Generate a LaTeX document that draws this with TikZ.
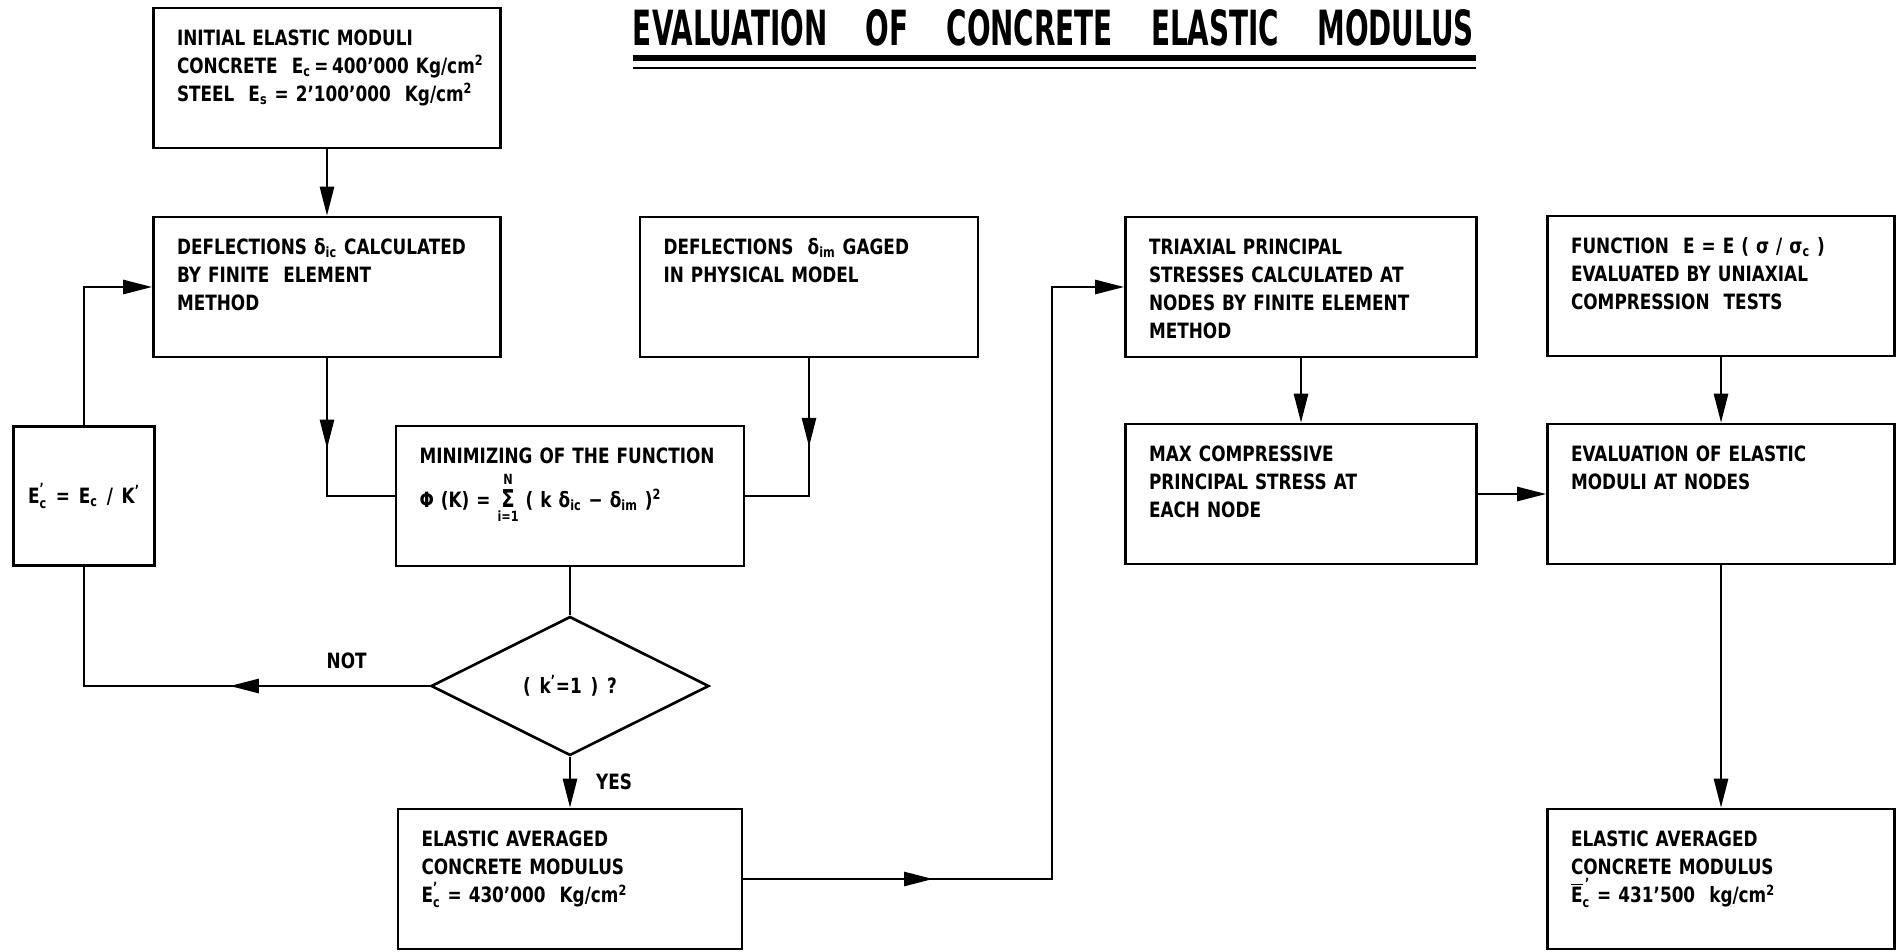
\documentclass[tikz,border=0pt]{standalone}
\usepackage{amsmath}
\usepackage{fontspec}
\usepackage{graphicx}
\setmainfont[FakeStretch=0.8,WordSpace=1.5]{DejaVu Sans}
\usetikzlibrary{arrows.meta,shapes.geometric,decorations.markings}

\begin{document}
\begin{tikzpicture}[every node/.style={font=\bfseries\fontsize{12}{16}\selectfont},
	>={Triangle[length=0.58cm,width=0.28cm]},
	flow/.style={line width=1.5pt},
	midarrow/.style={postaction={decorate},decoration={markings,mark=at position #1 with {\arrow{>}}}},
	blockbox/.style={draw, line width=1.5pt, align=left, text width=6cm, inner xsep=0.47cm, inner ysep=0.44cm, text height=8.75pt, text depth=1.611cm},
	smallbox/.style={draw, line width=1.5pt, minimum width=2.82cm, minimum height=2.78cm, inner sep=0pt},
	decision/.style={draw, diamond, line width=1.5pt, minimum width=5.56cm, minimum height=2.78cm, inner sep=0pt}]
	\useasboundingbox (0,0) rectangle (37.94,-19.02);
	% title
	\node[inner sep=0pt] (title) at (21.07,-0.56) {\resizebox{16.82cm}{0.72cm}{EVALUATION\hspace{1.1em}OF\hspace{1.1em}CONCRETE\hspace{1.1em}ELASTIC\hspace{1.1em}MODULUS}};
	\draw[line width=0.12cm] ([yshift=-0.22cm]title.south west) -- ([yshift=-0.22cm,xshift=0.04cm]title.south east);
	\draw[line width=0.04cm] ([yshift=-0.42cm]title.south west) -- ([yshift=-0.42cm,xshift=0.04cm]title.south east);
	% left column
	\node[blockbox] (init) at (6.54,-1.56) {INITIAL ELASTIC MODULI\\
		\mbox{CONCRETE\ \ E\textsubscript{c}\,=\,400'000 Kg/cm\textsuperscript{2}}\\
		\mbox{STEEL\ \ E\textsubscript{s} = 2'100'000\ \ Kg/cm\textsuperscript{2}}};
	\node[blockbox] (deflc) at (6.54,-5.74) {\mbox{DEFLECTIONS δ\textsubscript{ic} CALCULATED}\\ BY FINITE\ \ ELEMENT\\ METHOD};
	\node[blockbox, text width=5.82cm] (deflm) at (16.18,-5.74) {DEFLECTIONS\ \ δ\textsubscript{im} GAGED\\ IN PHYSICAL MODEL};
	\node[blockbox, text width=6.02cm] (mini) at (11.4,-9.92) {MINIMIZING OF THE FUNCTION\\[4pt]
		Φ (K) = $\mathop{\text{\fontsize{14}{14}\selectfont Σ}}\limits_{\text{i=1}}^{\text{N}}$ ( k δ\textsubscript{ic} − δ\textsubscript{im} )\textsuperscript{2}};
	\node[smallbox] (ecp) at (1.68,-9.92) {$\text{E}_{\text{c}}^{\text{'}}$ = E\textsubscript{c} / K\textsuperscript{'}};
	\node[decision] (dec) at (11.4,-13.72) {( k\textsuperscript{'}=1 ) ?};
	\node[blockbox, text width=5.94cm] (elast) at (11.4,-17.58) {ELASTIC AVERAGED\\ CONCRETE MODULUS\\
		$\text{E}_{\text{c}}^{\text{'}}$ = 430'000\ \ Kg/cm\textsuperscript{2}};
	% right part
	\node[blockbox, text width=6.08cm] (triax) at (26.02,-5.74) {TRIAXIAL PRINCIPAL\\ STRESSES CALCULATED AT\\ NODES BY FINITE ELEMENT\\ METHOD};
	\node[blockbox] (func) at (34.42,-5.72) {FUNCTION\ \ E = E ( σ / σ\textsubscript{c} )\\ EVALUATED BY UNIAXIAL\\ COMPRESSION\ \ TESTS};
	\node[blockbox, text width=6.08cm] (maxc) at (26.02,-9.88) {MAX COMPRESSIVE\\ PRINCIPAL STRESS AT\\ EACH NODE};
	\node[blockbox] (evalm) at (34.42,-9.88) {EVALUATION OF ELASTIC\\ MODULI AT NODES};
	\node[blockbox] (final) at (34.42,-17.58) {ELASTIC AVERAGED\\ CONCRETE MODULUS\\
		$\overline{\text{E}}_{\text{c}}^{\,\text{'}}$ = 431'500\ \ kg/cm\textsuperscript{2}};
	\coordinate (bend) at (21.04,-17.58);
	% connectors
	\draw[flow,->] (init) -- (deflc);
	\draw[flow,midarrow=0.44] (deflc.south) |- (mini.west);
	\draw[flow,midarrow=0.44] (deflm.south) |- (mini.east);
	\draw[flow] (mini) -- (dec);
	\draw[flow,->] (dec) -- node[right=0.38cm] (yes) {YES} (elast);
	\draw[flow,midarrow=0.43] (dec.west) -| node[pos=0.12, above=0.2cm] (no) {NOT} (ecp.south);
	\draw[flow,->] (ecp.north) |- (deflc.west);
	\draw[flow,->,midarrow=0.195] (elast.east) -- (bend) |- (triax.west);
	\draw[flow,->] (triax) -- (maxc);
	\draw[flow,->] (func) -- (evalm);
	\draw[flow,->] (maxc) -- (evalm);
	\draw[flow,->] (evalm) -- (final);
\end{tikzpicture}
\end{document}
